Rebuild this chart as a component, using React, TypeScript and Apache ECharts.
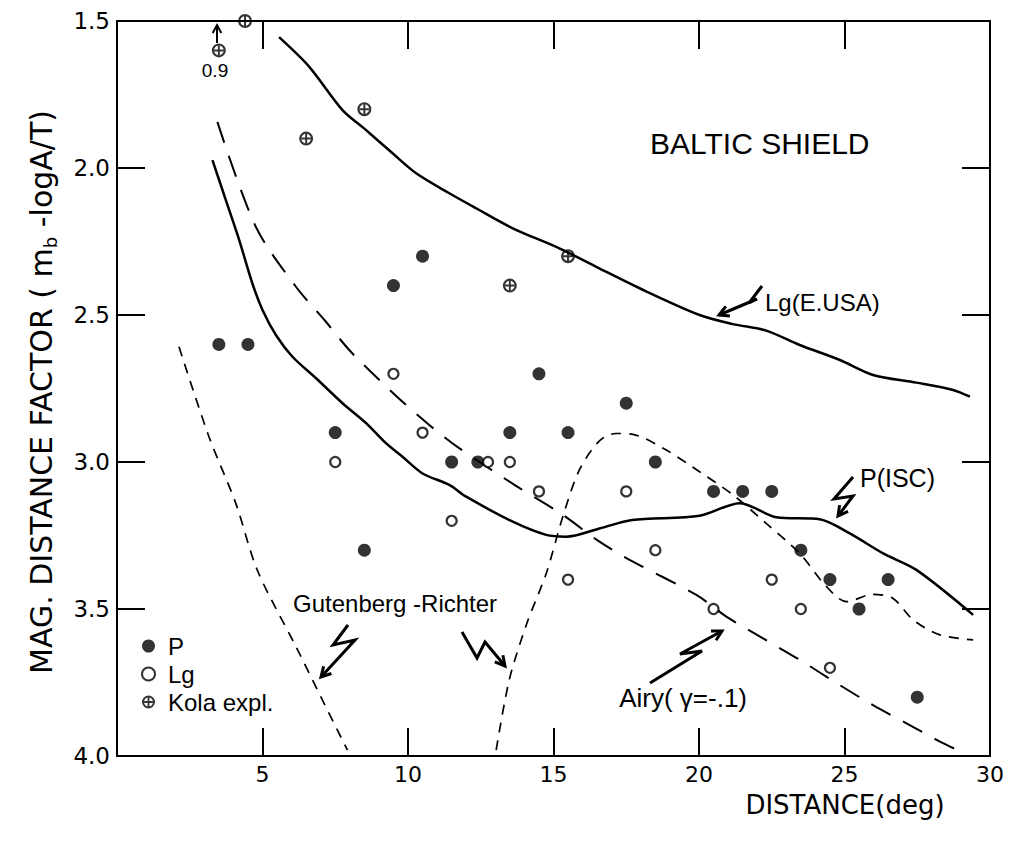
import React, { useEffect, useRef } from "react";
import * as echarts from "echarts";

// ---- data (distance in deg, magnitude distance factor) ----
const pPoints = [
  [3.5, 2.6], [4.5, 2.6], [7.5, 2.9], [8.5, 3.3], [9.5, 2.4], [10.5, 2.3],
  [11.5, 3.0], [12.4, 3.0], [13.5, 2.9], [14.5, 2.7], [15.5, 2.9], [17.5, 2.8],
  [18.5, 3.0], [20.5, 3.1], [21.5, 3.1], [22.5, 3.1], [23.5, 3.3], [24.5, 3.4],
  [25.5, 3.5], [26.5, 3.4], [27.5, 3.8],
];
const lgPoints = [
  [7.5, 3.0], [9.5, 2.7], [10.5, 2.9], [11.5, 3.2], [12.75, 3.0], [13.5, 3.0],
  [14.5, 3.1], [15.5, 3.4], [17.5, 3.1], [18.5, 3.3], [20.5, 3.5], [22.5, 3.4],
  [23.5, 3.5], [24.5, 3.7],
];
const kolaPoints = [
  [3.5, 1.6], [4.4, 1.5], [6.5, 1.9], [8.5, 1.8], [13.5, 2.4], [15.5, 2.3],
];
const lgEusaCurve = [
  [5.57, 1.555], [6.6, 1.655], [7.75, 1.803], [8.56, 1.871], [9.47, 1.95],
  [10.28, 2.018], [11.42, 2.086], [12.34, 2.137], [13.6, 2.205], [15.2, 2.273],
  [16.47, 2.336], [17.96, 2.409], [20.02, 2.5], [21.17, 2.531], [22.31, 2.553],
  [23.46, 2.602], [24.84, 2.653], [25.98, 2.704], [27.47, 2.73], [28.73, 2.755],
  [29.31, 2.778],
];
const pIscCurve = [
  [3.28, 1.973], [3.74, 2.109], [4.2, 2.245], [4.65, 2.392], [5.0, 2.483],
  [5.46, 2.568], [6.03, 2.642], [6.84, 2.715], [7.75, 2.8], [8.56, 2.868],
  [9.24, 2.936], [9.81, 2.982], [10.5, 3.039], [11.42, 3.078], [12.0, 3.118],
  [13.6, 3.203], [14.75, 3.248], [15.43, 3.254], [16.58, 3.226], [17.7, 3.197],
  [20.02, 3.183], [21.4, 3.14], [22.66, 3.188], [24.15, 3.195], [25.18, 3.243],
  [26.33, 3.311], [27.47, 3.367], [29.42, 3.52],
];
const airyCurve = [
  [3.45, 1.843], [4.77, 2.2], [6.15, 2.404], [7.18, 2.523], [7.98, 2.619],
  [8.9, 2.71], [9.81, 2.795], [10.73, 2.874], [11.76, 2.953], [13.71, 3.081],
  [15.32, 3.18], [16.58, 3.271], [17.73, 3.339], [19.91, 3.452], [20.94, 3.526],
  [22.2, 3.6], [23.46, 3.673], [24.84, 3.759], [25.98, 3.827], [27.13, 3.889],
  [28.28, 3.951], [29.08, 3.989],
];
const grLeftCurve = [
  [2.13, 2.608], [3.16, 2.914], [4.08, 3.14], [4.83, 3.37], [6.15, 3.628],
  [7.06, 3.81], [7.92, 3.98],
];
const grRightCurve = [
  [13.03, 3.98], [13.48, 3.741], [14.08, 3.55], [14.75, 3.379], [15.32, 3.186],
  [15.89, 3.027], [16.58, 2.928], [17.15, 2.903], [17.73, 2.906], [18.8, 2.955],
  [20.02, 3.033], [21.17, 3.112], [22.31, 3.209], [23.46, 3.311], [24.38, 3.424],
  [25.07, 3.475], [25.98, 3.45], [26.67, 3.464], [27.36, 3.537], [28.28, 3.588],
  [29.42, 3.605],
];
const xTicks = { min: 0, max: 30, interval: 5 };
const yTicks = { min: 1.5, max: 4.0, interval: 0.5 };

const KOLA_SYMBOL =
  "path://M-10,0A10,10,0,1,0,10,0A10,10,0,1,0,-10,0ZM-6.9,0A6.9,6.9,0,1,1,6.9,0A6.9,6.9,0,1,1,-6.9,0ZM-1.4,-6.9H1.4V6.9H-1.4ZM-6.9,-1.4H6.9V1.4H-6.9Z";

const FONT = "Liberation Sans";
const TICKFONT = "DejaVu Sans";

function arrow(pts: number[][], head = 11, w = 3) {
  const n = pts.length;
  const [tx, ty] = pts[n - 1];
  const [px, py] = pts[n - 2];
  const a = Math.atan2(ty - py, tx - px);
  const h1 = [tx - head * Math.cos(a - 0.5), ty - head * Math.sin(a - 0.5)];
  const h2 = [tx - head * Math.cos(a + 0.5), ty - head * Math.sin(a + 0.5)];
  const st = { stroke: "#000", lineWidth: w, fill: null, lineJoin: "miter" };
  return [
    { type: "polyline", silent: true, z: 50, shape: { points: pts }, style: st },
    { type: "polyline", silent: true, z: 50, shape: { points: [h1, [tx, ty], h2] }, style: st },
  ];
}

function label(text: string, x: number, y: number, size: number, align = "left", extra: any = {}) {
  return {
    type: "text",
    silent: true,
    z: 50,
    x,
    y,
    style: {
      text,
      fill: "#000",
      font: `${size}px "${FONT}"`,
      align,
      verticalAlign: "middle",
      ...extra,
    },
  };
}

const axisLine = { show: true, onZero: false, lineStyle: { color: "#000", width: 2 } };
const axisTick = { show: true, inside: true, length: 28, lineStyle: { color: "#000", width: 2 } };

export default function App() {
  const ref = useRef<HTMLDivElement>(null);
  useEffect(() => {
    if (!ref.current) return;
    const chart = echarts.init(ref.current, null, { renderer: "svg" });
    const lineSeries = (name: string, data: number[][], type: any, width = 2.2) => ({
      name,
      type: "line",
      data,
      smooth: 0.3,
      showSymbol: false,
      symbol: "none",
      z: 3,
      lineStyle: { color: "#000", width, type },
      emphasis: { disabled: true },
    });
    chart.setOption({
      animation: false,
      backgroundColor: "#fff",
      grid: { left: 117, right: 20, top: 21, bottom: 91, containLabel: false },
      xAxis: [
        {
          type: "value", position: "bottom", ...xTicks,
          axisLine, axisTick, splitLine: { show: false },
          axisLabel: {
            formatter: (v: number) => (v === 0 ? "" : String(v)),
            fontSize: 22, fontFamily: TICKFONT, color: "#000", margin: 7,
          },
        },
        {
          type: "value", position: "top", ...xTicks,
          axisLine, axisTick, splitLine: { show: false }, axisLabel: { show: false },
        },
      ],
      yAxis: [
        {
          type: "value", position: "left", inverse: true, ...yTicks,
          axisLine, axisTick, splitLine: { show: false },
          axisLabel: {
            formatter: (v: number) => v.toFixed(1),
            fontSize: 23, fontFamily: TICKFONT, color: "#000", margin: 7,
          },
        },
        {
          type: "value", position: "right", inverse: true, ...yTicks,
          axisLine, axisTick, splitLine: { show: false }, axisLabel: { show: false },
        },
      ],
      legend: {
        orient: "vertical",
        left: 136,
        top: 629,
        itemWidth: 13,
        itemHeight: 13,
        itemGap: 4,
        data: ["P", "Lg", "Kola expl."],
        textStyle: { fontSize: 24, fontFamily: FONT, color: "#000", lineHeight: 24, padding: [0, 0, 0, 8] },
        selectedMode: false,
      },
      series: [
        lineSeries("Lg(E.USA)", lgEusaCurve, "solid", 2.5),
        lineSeries("P(ISC)", pIscCurve, "solid", 2.5),
        lineSeries("Airy", airyCurve, [22, 14], 2),
        lineSeries("Gutenberg-Richter (near)", grLeftCurve, [10, 8], 1.7),
        lineSeries("Gutenberg-Richter", grRightCurve, [10, 8], 1.7),
        {
          name: "P", type: "scatter", data: pPoints, symbol: "circle", symbolSize: 13, z: 5,
          itemStyle: { color: "#000" },
        },
        {
          name: "Lg", type: "scatter", data: lgPoints, symbol: "circle", symbolSize: 10, z: 5,
          itemStyle: { color: "#fff", borderColor: "#000", borderWidth: 2.2 },
        },
        {
          name: "Kola expl.", type: "scatter", data: kolaPoints, symbol: KOLA_SYMBOL, symbolSize: 14, z: 5,
          itemStyle: { color: "#000" },
        },
      ],
      graphic: [
        label("BALTIC SHIELD", 650, 143, 30),
        label("Lg(E.USA)", 765, 302, 24),
        label("P(ISC)", 860, 478, 25),
        label("Gutenberg -Richter", 293, 603, 24),
        label("Airy( γ=-.1)", 747, 698, 26, "right"),
        label("0.9", 215, 70, 19, "center"),
        {
          type: "text", silent: true, z: 50, x: 41, y: 392, rotation: Math.PI / 2,
          style: {
            text: "MAG. DISTANCE FACTOR ( m{sub|b} -logA/T)",
            fill: "#000", font: `30px "${TICKFONT}"`, align: "center", verticalAlign: "middle",
            lineHeight: 36,
            rich: { sub: { fontSize: 18, fontFamily: TICKFONT, verticalAlign: "bottom", lineHeight: 18, fill: "#000" } },
          },
        },
        {
          type: "text", silent: true, z: 50, x: 845, y: 805,
          style: { text: "DISTANCE(deg)", fill: "#000", font: `26px "${TICKFONT}"`, align: "center", verticalAlign: "middle" },
        },
        ...arrow([[762, 286], [749, 303], [757, 299], [719, 315]]),
        ...arrow([[853, 477], [834, 499], [853, 496], [838, 516]]),
        ...arrow([[348, 625], [333, 645], [355, 640], [321, 677]]),
        ...arrow([[462, 632], [477, 658], [485, 642], [505, 666]]),
        ...arrow([[650, 683], [702, 651], [680, 654], [722, 631]]),
        ...arrow([[217, 43], [217, 25]], 9, 2),
      ],
    });
    return () => chart.dispose();
  }, []);
  return (
    <div
      ref={ref}
      style={{ position: "absolute", left: 0, top: 0, width: 1010, height: 847, background: "#fff" }}
    />
  );
}
